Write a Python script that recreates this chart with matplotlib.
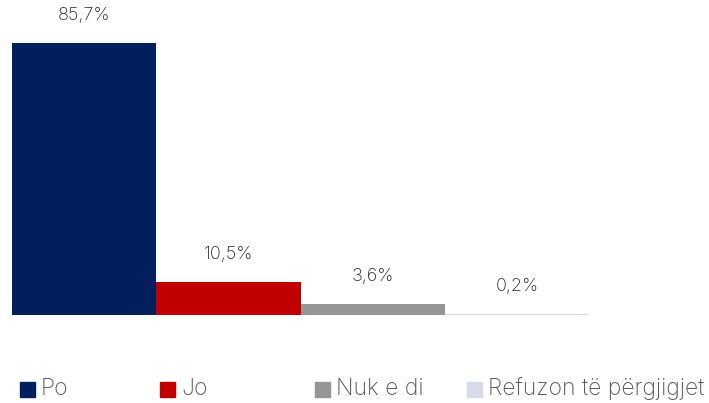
import matplotlib.pyplot as plt

categories = ['Po', 'Jo', 'Nuk e di', 'Refuzon të përgjigjet']
values = [85.7, 10.5, 3.6, 0.2]
labels = ['85,7%', '10,5%', '3,6%', '0,2%']
colors = ['#001F5C', '#C00000', '#969696', '#D9DCE8']

plt.rcParams['font.family'] = ['Inter', 'DejaVu Sans']

fig = plt.figure(figsize=(7.09, 4.03), dpi=100)
ax = fig.add_axes([12 / 709, 88 / 403, 577 / 709, 315 / 403])

x = range(len(values))
bars = ax.bar(x, values, width=1.0, color=colors, label=categories)
ax.set_xlim(-0.5, 3.5)
ax.set_ylim(0, 99.25)

for b, lab in zip(bars, labels):
    ax.annotate(lab, (b.get_x() + b.get_width() / 2, b.get_height()),
                xytext=(0, 19), textcoords='offset pixels',
                ha='center', va='bottom', fontsize=13, color='#262626',
                fontweight='light')

ax.axis('off')

# legend placed by hand below the bars
leg_x = [20, 160, 315, 467]
for xi, c, name in zip(leg_x, colors, categories):
    fig.patches.append(plt.Rectangle((xi / 709, (403 - 397) / 403), 15 / 709, 15 / 403,
                                     transform=fig.transFigure, color=c))
    fig.text((xi + 21) / 709, (403 - 389) / 403, name, fontsize=16.5,
             color='#595959', va='center', ha='left', fontweight='light')

fig.savefig('out.png', dpi=100)
